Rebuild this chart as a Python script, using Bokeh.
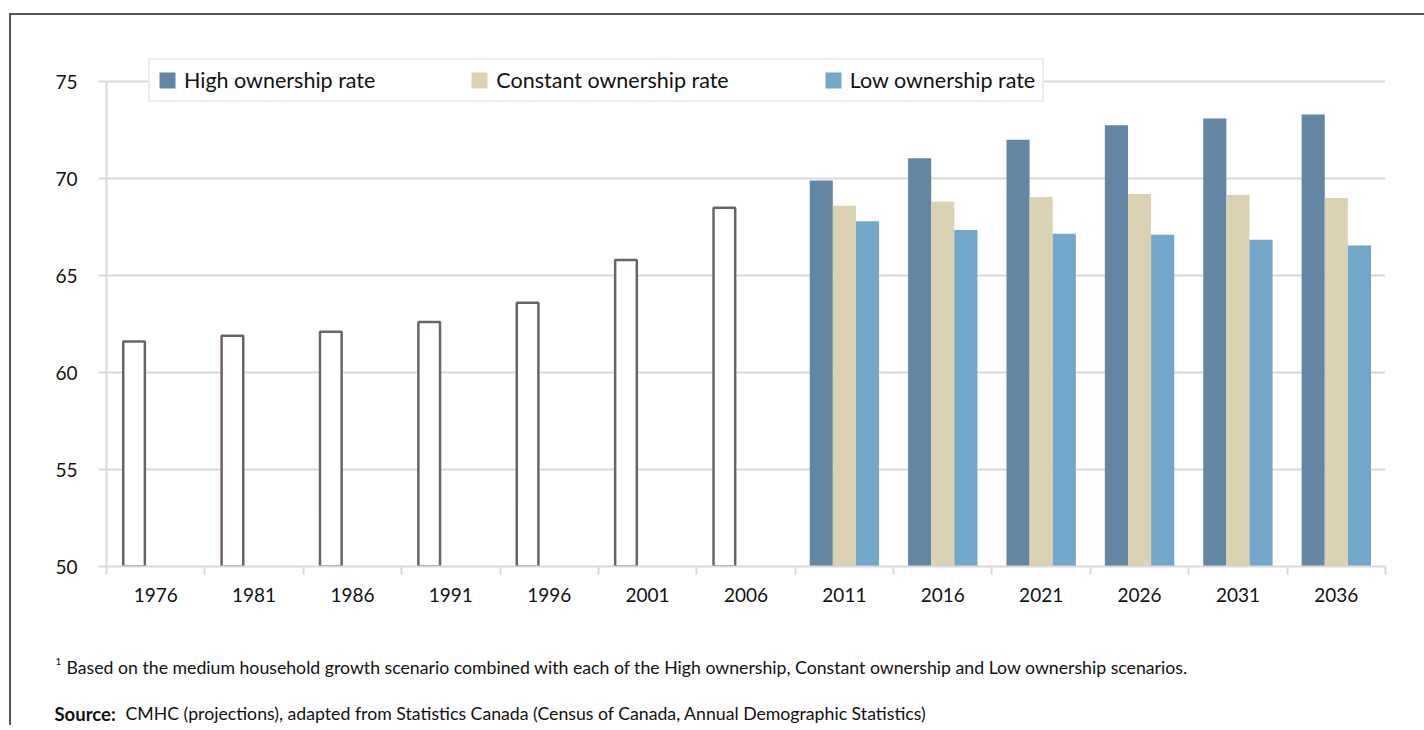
from bokeh.plotting import figure
from bokeh.models import Range1d, FixedTicker, Legend, LegendItem, Label
from bokeh.layouts import column
from bokeh.embed import file_html
from bokeh.resources import INLINE

# ---- data ----
years = ["1976", "1981", "1986", "1991", "1996", "2001", "2006",
         "2011", "2016", "2021", "2026", "2031", "2036"]
hist_years = ["1976", "1981", "1986", "1991", "1996", "2001", "2006"]
hist_values = [61.6, 61.9, 62.1, 62.6, 63.6, 65.8, 68.5]
proj_years = ["2011", "2016", "2021", "2026", "2031", "2036"]
high_rate = [69.9, 71.05, 72.0, 72.75, 73.1, 73.3]
constant_rate = [68.6, 68.8, 69.05, 69.2, 69.15, 69.0]
low_rate = [67.8, 67.35, 67.15, 67.1, 66.85, 66.55]
y_ticks = [50, 55, 60, 65, 70, 75]
series_names = ["High ownership rate", "Constant ownership rate", "Low ownership rate"]
series_colors = ["#6286a3", "#dad2b2", "#72a7c9"]
footnote = ("Based on the medium household growth scenario combined with each of the "
            "High ownership, Constant ownership and Low ownership scenarios.")
source_head = "Source:"
source_text = ("CMHC (projections), adapted from Statistics Canada "
               "(Census of Canada, Annual Demographic Statistics)")

FONT = "Lato"
GRID = "#d9d9d9"
TXT = "#111111"

p = figure(width=1413, height=615, output_backend="svg", toolbar_location=None,
           x_range=Range1d(-0.5, len(years) - 0.5), y_range=Range1d(50, 76.86),
           min_border_left=95, min_border_right=39, min_border_top=30,
           min_border_bottom=64)
p.frame_align = False
p.outline_line_color = None
p.background_fill_color = "white"
p.border_fill_color = "white"

# historical bars (outlined)
hx = [years.index(y) - 0.22 for y in hist_years]
p.vbar(x=hx, top=hist_values, bottom=50, width=0.22, fill_color="white",
       line_color="#6e6262", line_width=2.5)

# projections
bw = 0.235
renderers = []
for k, (vals, col) in enumerate(zip([high_rate, constant_rate, low_rate], series_colors)):
    xs = [years.index(y) + (k - 1) * bw for y in proj_years]
    r = p.vbar(x=xs, top=vals, bottom=50, width=bw, fill_color=col, line_color=None)
    renderers.append(r)

# grid and axes
p.xgrid.visible = False
p.ygrid.ticker = FixedTicker(ticks=y_ticks)
p.ygrid.grid_line_color = GRID
p.ygrid.grid_line_width = 2

p.yaxis.ticker = FixedTicker(ticks=y_ticks)
p.yaxis.bounds = (y_ticks[0], y_ticks[-1])
p.yaxis.axis_line_color = GRID
p.yaxis.axis_line_width = 2
p.yaxis.major_tick_line_color = GRID
p.yaxis.major_tick_line_width = 2
p.yaxis.major_tick_out = 8
p.yaxis.major_tick_in = 0
p.yaxis.minor_tick_line_color = None
p.yaxis.major_label_standoff = 21
p.yaxis.major_label_text_font = FONT
p.yaxis.major_label_text_font_size = "19px"
p.yaxis.major_label_text_color = TXT

p.xaxis.ticker = FixedTicker(ticks=list(range(len(years))),
                             minor_ticks=[i - 0.5 for i in range(len(years) + 1)])
p.xaxis.major_label_overrides = {i: y for i, y in enumerate(years)}
p.xaxis.axis_line_color = GRID
p.xaxis.axis_line_width = 2
p.xaxis.major_tick_line_color = None
p.xaxis.major_tick_out = 0
p.xaxis.major_tick_in = 0
p.xaxis.minor_tick_line_color = GRID
p.xaxis.minor_tick_line_width = 2
p.xaxis.minor_tick_out = 8
p.xaxis.minor_tick_in = 0
p.xaxis.major_label_standoff = 13
p.xaxis.major_label_text_font = FONT
p.xaxis.major_label_text_font_size = "19px"
p.xaxis.major_label_text_color = TXT

# legend
legend = Legend(items=[LegendItem(label=n, renderers=[r]) for n, r in zip(series_names, renderers)],
                orientation="horizontal", location=(42, 464),
                glyph_width=20, glyph_height=20, label_standoff=7, spacing=94,
                padding=7, label_height=20,
                label_text_font=FONT, label_text_font_size="21.5px",
                label_text_color=TXT,
                border_line_color=GRID, border_line_width=2,
                background_fill_color="white", background_fill_alpha=1.0)
p.add_layout(legend, "center")

# footnote panel
p2 = figure(width=1413, height=95, output_backend="svg", toolbar_location=None,
            x_range=Range1d(0, 1413), y_range=Range1d(0, 95),
            x_axis_type=None, y_axis_type=None,
            min_border_left=0, min_border_right=0, min_border_top=0, min_border_bottom=0)
p2.frame_align = False
p2.outline_line_color = None
p2.xgrid.visible = False
p2.ygrid.visible = False
p2.border_fill_color = "white"
p2.background_fill_color = "white"

p2.add_layout(Label(x=44, y=64, x_units="screen", y_units="screen", text="1",
                    text_font=FONT, text_font_size="10px", text_baseline="middle",
                    text_color=TXT))
p2.add_layout(Label(x=55, y=58, x_units="screen", y_units="screen", text=footnote,
                    text_font=FONT, text_font_size="17.7px", text_baseline="middle",
                    text_color=TXT))
p2.add_layout(Label(x=43, y=12, x_units="screen", y_units="screen", text=source_head,
                    text_font=FONT, text_font_size="18.5px", text_font_style="bold",
                    text_baseline="middle", text_color=TXT))
p2.add_layout(Label(x=114, y=12, x_units="screen", y_units="screen", text=source_text,
                    text_font=FONT, text_font_size="17.7px", text_baseline="middle",
                    text_color=TXT))

layout = column(p, p2, spacing=0, margin=(13, 0, 0, 9),
                styles={"border-left": "2px solid #555555",
                        "border-top": "2px solid #555555"})

open("out.html", "w").write(file_html(layout, INLINE))
